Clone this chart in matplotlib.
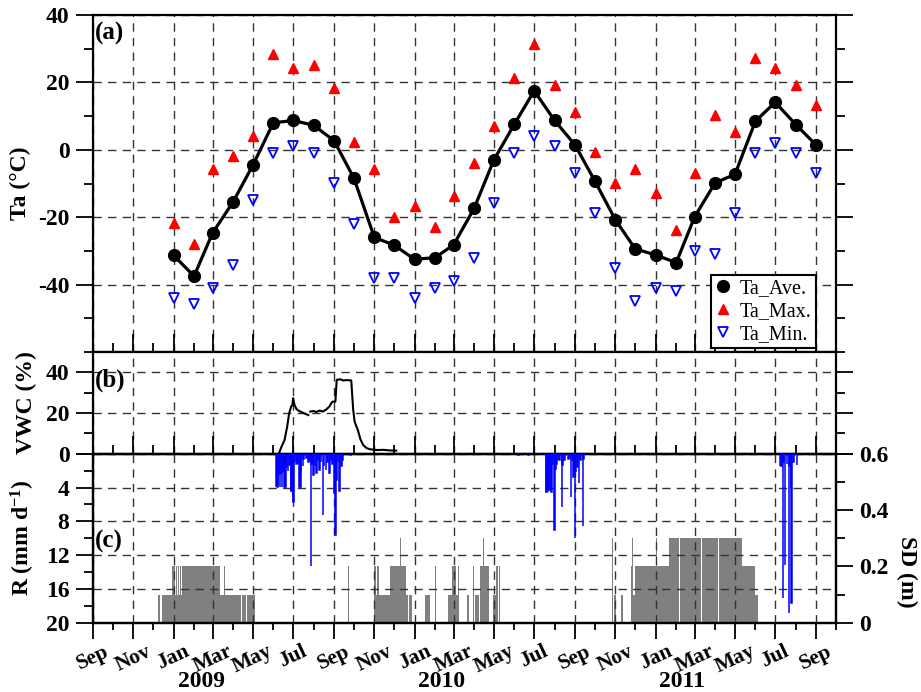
import numpy as np
import pandas as pd
import matplotlib
matplotlib.use('Agg')
import matplotlib.pyplot as plt
import matplotlib.dates as mdates

plt.rcParams['font.family'] = 'Liberation Serif'
plt.rcParams['font.weight'] = 'bold'
plt.rcParams['axes.labelweight'] = 'bold'
plt.rcParams['axes.unicode_minus'] = False
plt.rcParams['mathtext.fontset'] = 'custom'
plt.rcParams['mathtext.rm'] = 'Liberation Serif:bold'
plt.rcParams['mathtext.bf'] = 'Liberation Serif:bold'
plt.rcParams['mathtext.it'] = 'Liberation Serif:bold:italic'

# monthly air temperature (deg C), Jan 2009 - Sep 2011
months = pd.date_range('2009-01-01', '2011-09-01', freq='MS')
ta_ave = [-31.3, -37.5, -24.7, -15.5, -4.6, 8.0, 8.7, 7.3, 2.7, -8.4, -26.0, -28.3,
          -32.5, -32.0, -28.2, -17.4, -3.0, 7.6, 17.5, 8.7, 1.4, -9.3, -20.8, -29.4,
          -31.2, -33.5, -19.9, -9.8, -7.3, 8.5, 14.1, 7.5, 1.4]
ta_max = [-21.8, -27.9, -5.8, -1.8, 4.2, 28.3, 24.3, 25.3, 18.2, 2.2, -5.8, -19.8,
          -16.8, -22.9, -13.8, -3.9, 7.2, 21.2, 31.4, 19.3, 11.3, -0.8, -9.8, -5.8,
          -12.9, -23.9, -6.8, 10.2, 5.2, 27.3, 24.3, 19.3, 13.2]
ta_min = [-44.0, -45.9, -41.0, -34.1, -15.0, -1.0, 1.1, -0.9, -9.9, -21.9, -38.0, -38.0,
          -44.0, -41.0, -39.0, -32.0, -15.9, -1.0, 4.2, 1.1, -6.9, -18.9, -35.0, -45.0,
          -41.0, -42.0, -29.9, -31.0, -18.9, -1.0, 2.1, -1.0, -6.9]

# soil volumetric water content (%)
vwc_dates = ['2009-06-10', '2009-06-13', '2009-06-18', '2009-06-22', '2009-06-25', '2009-06-28',
             '2009-06-30', '2009-07-01', '2009-07-03', '2009-07-06', '2009-07-09', '2009-07-14',
             '2009-07-18', '2009-07-24', '2009-07-25', '2009-07-27', '2009-08-01', '2009-08-05',
             '2009-08-10', '2009-08-15', '2009-08-20', '2009-08-25', '2009-08-28', '2009-08-30',
             '2009-09-03', '2009-09-05', '2009-09-10', '2009-09-15', '2009-09-20', '2009-09-27',
             '2009-09-30', '2009-10-02', '2009-10-04', '2009-10-07', '2009-10-11', '2009-10-15',
             '2009-10-20', '2009-10-25', '2009-11-05', '2009-11-15', '2009-11-25', '2009-12-04']
vwc_val = [0.5, 3.1, 6.7, 13.3, 19.9, 23.2,
           24.0, 27.3, 24.0, 22.0, 21.2, 20.4,
           19.8, 19.0, np.nan, 20.7, 21.0, 20.5,
           21.2, 20.7, 21.7, 23.2, 25.0, 25.6,
           25.6, 36.3, 36.6, 36.0, 36.2, 36.0,
           21.5, 16.0, 14.1, 11.7, 7.0, 4.3,
           2.8, 2.2, 1.8, 1.9, 1.6, 1.5]

# daily rainfall (mm/d)
rain_dates = ['2009-06-06', '2009-06-07', '2009-06-08', '2009-06-10', '2009-06-11', '2009-06-13',
              '2009-06-14', '2009-06-16', '2009-06-18', '2009-06-19', '2009-06-21', '2009-06-23',
              '2009-06-26', '2009-06-28', '2009-06-29', '2009-07-01', '2009-07-02', '2009-07-04',
              '2009-07-06', '2009-07-08', '2009-07-11', '2009-07-12', '2009-07-13', '2009-07-16',
              '2009-07-17', '2009-07-21', '2009-07-24', '2009-07-26', '2009-07-28', '2009-07-29',
              '2009-07-31', '2009-08-01', '2009-08-03', '2009-08-05', '2009-08-08', '2009-08-10',
              '2009-08-12', '2009-08-15', '2009-08-17', '2009-08-20', '2009-08-22', '2009-08-25',
              '2009-08-28', '2009-08-30', '2009-09-02', '2009-09-03', '2009-09-05', '2009-09-07',
              '2009-09-09', '2009-09-12', '2009-09-14', '2009-09-26',
              '2010-06-07', '2010-06-22', '2010-07-10', '2010-07-19', '2010-07-20', '2010-07-21',
              '2010-07-22', '2010-07-23', '2010-07-24', '2010-07-25', '2010-07-27', '2010-07-29',
              '2010-08-01', '2010-08-02', '2010-08-04', '2010-08-06', '2010-08-08', '2010-08-12',
              '2010-08-13', '2010-08-16', '2010-08-22', '2010-08-24', '2010-08-26', '2010-08-28',
              '2010-08-30', '2010-09-01', '2010-09-02', '2010-09-05', '2010-09-07', '2010-09-09',
              '2010-09-13', '2010-09-14',
              '2011-07-08', '2011-07-10', '2011-07-11', '2011-07-13', '2011-07-14', '2011-07-16',
              '2011-07-19', '2011-07-22', '2011-07-23', '2011-07-25', '2011-07-26', '2011-07-29',
              '2011-08-03']
rain_mm = [3.8, 3.9, 3.7, 2.4, 3.9, 2.3,
           3.9, 2.1, 3.9, 3.9, 1.6, 2.1,
           1.3, 4.5, 4.3, 5.6, 5.7, 1.0,
           1.2, 1.1, 3.9, 3.9, 2.3, 1.4,
           0.6, 0.5, 1.0, 0.8, 13.3, 1.2,
           1.1, 2.5, 1.5, 2.3, 0.8, 1.9,
           1.0, 7.3, 1.5, 1.9, 1.0, 2.3,
           0.8, 1.2, 4.7, 9.6, 3.1, 1.0,
           4.4, 1.5, 0.8, 0.2,
           0.2, 0.2, 0.2, 4.5, 4.5, 3.9,
           4.5, 1.8, 4.3, 2.3, 4.5, 1.2,
           9.0, 1.8, 1.2, 0.8, 0.7, 6.3,
           1.3, 0.8, 0.6, 0.6, 5.1, 0.8,
           2.7, 10.0, 2.0, 1.6, 3.5, 0.8,
           8.6, 0.6,
           1.5, 1.5, 0.8, 17.1, 1.0, 13.2,
           1.2, 18.9, 1.5, 4.0, 17.7, 1.0,
           1.3]

# snow depth (m), runs of constant daily values
sd_start = ['2008-12-08', '2008-12-15', '2008-12-29', '2008-12-30', '2009-01-03', '2009-01-05',
            '2009-01-06', '2009-01-08', '2009-01-09', '2009-01-11', '2009-01-12', '2009-01-14',
            '2009-01-19', '2009-02-18', '2009-02-27', '2009-03-12', '2009-03-19', '2009-03-20',
            '2009-03-27', '2009-03-28', '2009-04-14', '2009-04-22',
            '2009-09-22', '2009-11-01', '2009-11-03', '2009-11-05', '2009-11-08', '2009-11-16',
            '2009-11-25', '2009-12-10', '2009-12-12', '2009-12-19', '2009-12-23', '2009-12-29',
            '2010-01-16', '2010-02-01', '2010-02-11', '2010-02-20', '2010-02-26', '2010-03-04',
            '2010-03-05', '2010-03-08', '2010-03-13', '2010-03-22', '2010-03-31', '2010-04-03',
            '2010-04-10', '2010-04-15', '2010-04-16', '2010-04-29', '2010-05-04', '2010-05-08',
            '2010-09-20', '2010-10-27', '2010-10-30', '2010-11-10', '2010-11-15', '2010-11-24',
            '2010-11-26', '2010-11-28', '2010-11-30', '2010-12-10', '2011-01-01', '2011-01-03',
            '2011-01-21', '2011-02-07', '2011-03-12', '2011-04-07', '2011-05-12', '2011-05-22',
            '2011-05-23', '2011-05-31']
sd_end = ['2008-12-10', '2008-12-28', '2008-12-29', '2009-01-02', '2009-01-04', '2009-01-05',
          '2009-01-07', '2009-01-08', '2009-01-10', '2009-01-11', '2009-01-13', '2009-01-17',
          '2009-02-16', '2009-02-25', '2009-03-11', '2009-03-18', '2009-03-19', '2009-03-26',
          '2009-03-27', '2009-04-12', '2009-04-20', '2009-05-04',
          '2009-09-22', '2009-11-02', '2009-11-04', '2009-11-07', '2009-11-14', '2009-11-24',
          '2009-12-09', '2009-12-11', '2009-12-18', '2009-12-21', '2009-12-27', '2009-12-29',
          '2010-01-24', '2010-02-01', '2010-02-11', '2010-02-25', '2010-03-03', '2010-03-04',
          '2010-03-07', '2010-03-08', '2010-03-13', '2010-03-24', '2010-03-31', '2010-04-08',
          '2010-04-14', '2010-04-15', '2010-04-22', '2010-05-03', '2010-05-06', '2010-05-09',
          '2010-09-20', '2010-10-27', '2010-11-01', '2010-11-11', '2010-11-15', '2010-11-25',
          '2010-11-27', '2010-11-29', '2010-12-08', '2010-12-31', '2011-01-02', '2011-01-20',
          '2011-02-05', '2011-03-10', '2011-04-05', '2011-05-11', '2011-05-21', '2011-05-22',
          '2011-05-30', '2011-06-04']
sd_value = [0.1, 0.1, 0.3, 0.2, 0.1, 0.2,
            0.1, 0.2, 0.1, 0.2, 0.1, 0.2,
            0.2, 0.2, 0.2, 0.1, 0.2, 0.1,
            0.2, 0.1, 0.1, 0.1,
            0.2, 0.2, 0.1, 0.2, 0.1, 0.1,
            0.2, 0.3, 0.2, 0.1, 0.1, 0.2,
            0.1, 0.2, 0.2, 0.1, 0.2, 0.3,
            0.1, 0.2, 0.2, 0.1, 0.2, 0.1,
            0.2, 0.3, 0.2, 0.1, 0.2, 0.2,
            0.3, 0.3, 0.1, 0.1, 0.1, 0.2,
            0.3, 0.1, 0.2, 0.2, 0.3, 0.2,
            0.3, 0.3, 0.3, 0.3, 0.2, 0.3,
            0.2, 0.1]

grid_kw = dict(linestyle=(0, (6, 4.5)), color='#333333', linewidth=1.0)
lab_fs = 17
tick_fs = 17

fig = plt.figure(figsize=(9.21, 6.92), dpi=100)
ax_a = fig.add_axes([0.10098, 0.49133, 0.80673, 0.48699])
ax_b = fig.add_axes([0.10098, 0.34436, 0.80673, 0.14697], sharex=ax_a)
ax_c = fig.add_axes([0.10098, 0.10014, 0.80673, 0.24422], sharex=ax_a)
ax_sd = ax_c.twinx()

# --- (a) air temperature
ax_a.plot(months, ta_ave, '-', color='k', lw=2.3, zorder=3)
ax_a.plot(months, ta_ave, 'o', color='k', ms=8.5, ls='none', label='Ta_Ave.', zorder=4)
ax_a.plot(months, ta_max, '^', color='red', ms=6.5, ls='none', label='Ta_Max.', zorder=4)
ax_a.plot(months, ta_min, 'v', mfc='none', mec='blue', mew=1.3, ms=7.5, ls='none',
          label='Ta_Min.', zorder=4)
ax_a.set_ylim(-60, 40)
ax_a.set_yticks([-40, -20, 0, 20, 40])
ax_a.set_yticks(np.arange(-50, 40, 10), minor=True)
ax_a.set_ylabel('Ta (°C)', fontsize=lab_fs)
ax_a.yaxis.set_label_coords(-0.083, 0.5)
leg = ax_a.legend(loc='lower right', bbox_to_anchor=(0.973, 0.012), borderaxespad=0,
                  fancybox=False, framealpha=1, edgecolor='k', handlelength=0.8,
                  handletextpad=0.45, labelspacing=0.2, borderpad=0.2,
                  prop={'family': 'Liberation Serif', 'weight': 'normal', 'size': 14.5})
leg.get_frame().set_linewidth(1.5)
ax_a.text(0.002, 0.944, '(a)', transform=ax_a.transAxes, fontsize=18, ha='left', va='center')

# --- (b) soil water content
ax_b.plot(pd.to_datetime(vwc_dates), vwc_val, color='k', lw=1.5)
ax_b.set_ylim(0, 50)
ax_b.set_yticks([0, 20, 40])
ax_b.set_yticks([10, 30, 50], minor=True)
ax_b.set_ylabel('VWC (%)', fontsize=lab_fs)
ax_b.yaxis.set_label_coords(-0.075, 0.5)
ax_b.text(0.002, 0.725, '(b)', transform=ax_b.transAxes, fontsize=18, ha='left', va='center')

# --- (c) rainfall (inverted) and snow depth
sd_s = pd.to_datetime(sd_start)
sd_e = pd.to_datetime(sd_end)
ax_sd.bar(sd_s, sd_value, width=[(e - s).days + 1 for s, e in zip(sd_s, sd_e)],
          align='edge', color='#808080', linewidth=0)
ax_sd.set_ylim(0, 0.6)
ax_sd.set_yticks([0, 0.2, 0.4, 0.6])
ax_sd.set_yticklabels(['0', '0.2', '0.4', '0.6'])
ax_sd.set_yticks([0.1, 0.3, 0.5], minor=True)
ax_sd.text(1.0956, 0.30, 'SD (m)', transform=ax_sd.transAxes, rotation=270,
           fontsize=lab_fs, ha='center', va='center')

ax_c.bar(pd.to_datetime(rain_dates), rain_mm, width=1.0, color='blue', edgecolor='blue',
         linewidth=1.1, zorder=3)
ax_c.set_ylim(20, 0)
ax_c.set_yticks([0, 4, 8, 12, 16, 20])
ax_c.set_yticklabels(['', '4', '8', '12', '16', '20'])
ax_c.set_yticks([2, 6, 10, 14, 18], minor=True)
ax_c.set_ylabel('R (mm d$^{-1}$)', fontsize=lab_fs)
ax_c.yaxis.set_label_coords(-0.075, 0.5)
ax_c.text(0.002, 0.483, '(c)', transform=ax_c.transAxes, fontsize=18, ha='left', va='center')

# draw the rainfall axes above the snow depth bars
ax_c.set_zorder(ax_sd.get_zorder() + 1)
ax_c.patch.set_visible(False)

# --- shared x axis
ax_a.set_xlim(pd.Timestamp('2008-09-01'), pd.Timestamp('2011-10-01'))
ax_c.xaxis.set_major_locator(mdates.MonthLocator(bymonth=[1, 3, 5, 7, 9, 11]))
ax_c.xaxis.set_minor_locator(mdates.MonthLocator())
ax_c.xaxis.set_major_formatter(mdates.DateFormatter('%b'))

for ax in (ax_a, ax_b, ax_c):
    ax.grid(True, which='major', **grid_kw)
    ax.set_axisbelow(True)
    for sp in ax.spines.values():
        sp.set_linewidth(1.6)
    ax.tick_params(axis='y', which='major', direction='out', length=12, width=1.3,
                   labelsize=tick_fs, pad=5, right=(ax is not ax_c))
    ax.tick_params(axis='y', which='minor', direction='out', length=6.5, width=1.3,
                   right=(ax is not ax_c))

for sp in ax_sd.spines.values():
    sp.set_linewidth(1.6)
ax_sd.tick_params(axis='y', which='major', direction='out', length=12, width=1.3,
                  labelsize=tick_fs, pad=5)
ax_sd.tick_params(axis='y', which='minor', direction='out', length=6.5, width=1.3)

for ax in (ax_a, ax_b):
    ax.tick_params(axis='x', which='major', direction='in', length=13, width=1.3,
                   labelbottom=False)
    ax.tick_params(axis='x', which='minor', direction='in', length=6.5, width=1.3)

ax_c.tick_params(axis='x', which='major', direction='out', length=11.5, width=1.3,
                 labelsize=15.5, pad=2)
ax_c.tick_params(axis='x', which='minor', direction='out', length=5, width=1.3)
for lab in ax_c.get_xticklabels():
    lab.set_rotation(25)
    lab.set_ha('center')

for yr, day in [('2009', '2009-02-12'), ('2010', '2010-02-11'), ('2011', '2011-02-10')]:
    ax_c.text(pd.Timestamp(day), -0.345, yr, transform=ax_c.get_xaxis_transform(),
              fontsize=17, ha='center', va='center')

fig.savefig('out.png', dpi=100)
